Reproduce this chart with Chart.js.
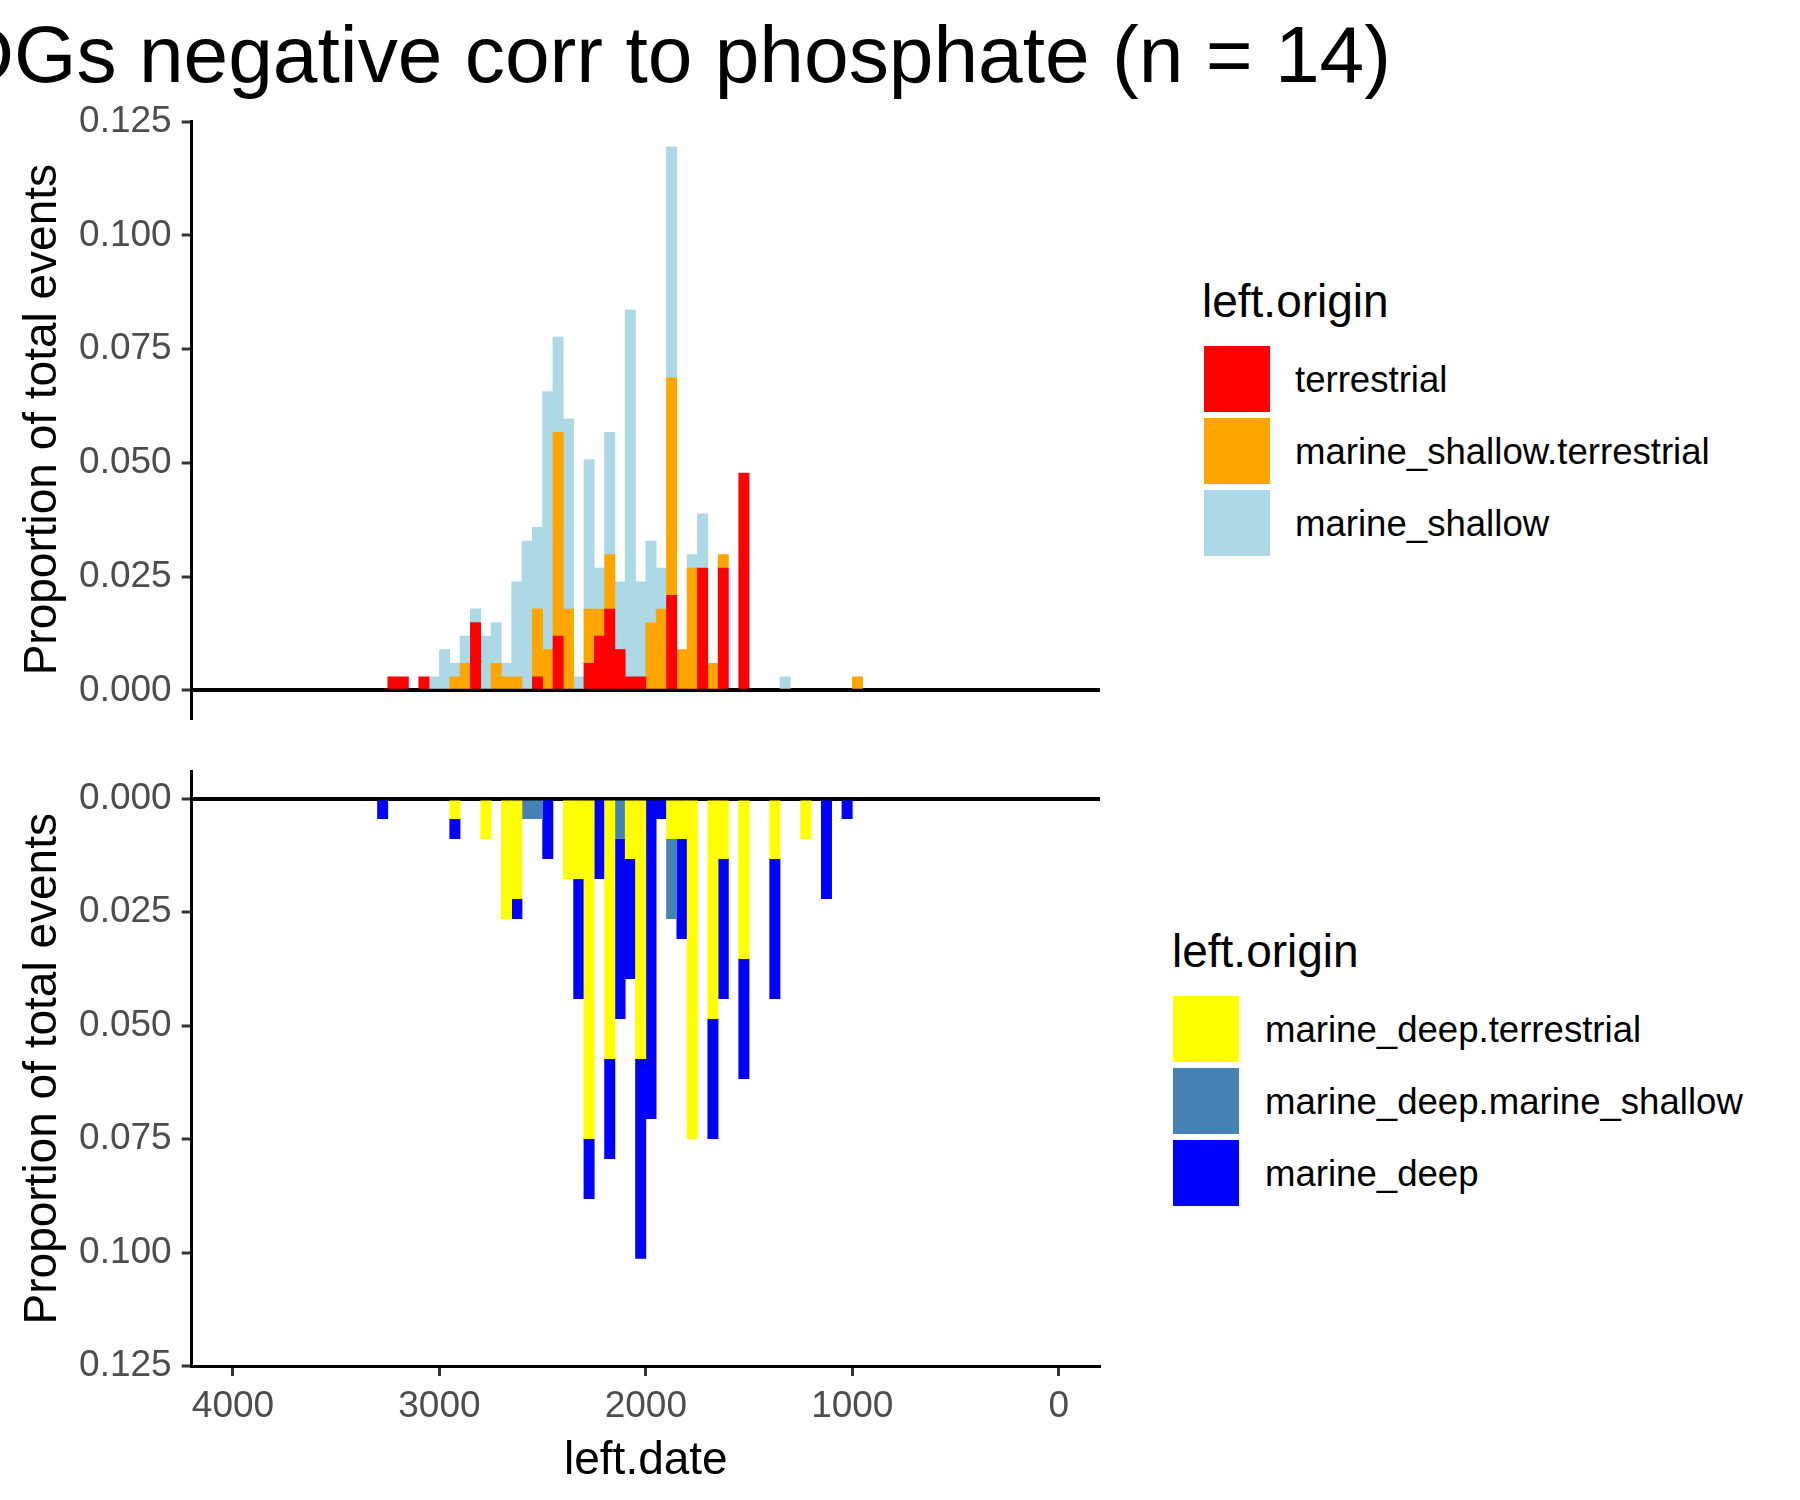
<!DOCTYPE html>
<html>
<head>
<meta charset="utf-8">
<script src="https://cdn.jsdelivr.net/npm/chart.js@4.4.1/dist/chart.umd.min.js"></script>
<style>
html,body{margin:0;padding:0;background:#fff;}
body{width:1800px;height:1500px;position:relative;overflow:hidden;font-family:'Liberation Sans',Arial,sans-serif;}
#title{position:absolute;left:-44px;top:14px;font-size:80.3px;line-height:1;white-space:nowrap;color:#000;}
canvas{position:absolute;left:0;}
.lgTitle{position:absolute;font-size:46px;line-height:1;color:#000;white-space:nowrap;}
.lgRow{position:absolute;height:66px;display:flex;align-items:center;white-space:nowrap;}
.lgKey{width:66px;height:66px;flex:none;}
.lgLabel{font-size:36.6px;line-height:1;color:#000;position:relative;top:1.5px;}
</style>
</head>
<body>
<div id="title">DGs negative corr to phosphate (n = 14)</div>
<canvas id="topChart" width="1150" height="740" style="top:0;width:1150px;height:740px"></canvas>
<canvas id="bottomChart" width="1150" height="760" style="top:740px;width:1150px;height:760px"></canvas>
<div id="legends"></div>
<script>
// ---- data ----
const bins = [3275,3225,3175,3125,3075,3025,2975,2925,2875,2825,2775,2725,2675,2625,2575,2525,2475,2425,2375,2325,2275,2225,2175,2125,2075,2025,1975,1925,1875,1825,1775,1725,1675,1625,1575,1525,1475,1425,1375,1325,1275,1225,1175,1125,1075,1025,975];

const yTicks = [0, 0.025, 0.05, 0.075, 0.1, 0.125];
const xTicks = [4000, 3000, 2000, 1000, 0];

// top panel series
const terrestrial = [null,0.00299,0.00299,null,0.00299,null,null,null,null,0.01493,
  null,null,null,null,null,0.00299,null,0.01194,null,null,
  0.00597,0.01194,0.01791,0.00896,0.00299,0.00299,null,null,0.02090,null,
  null,0.02687,null,0.02687,null,0.04776,null,null,null,null,
  null,null,null,null,null,null,null];
const marineShallowTerrestrial = [null,null,null,null,null,null,null,0.00299,0.00597,null,
  null,0.00597,0.00299,0.00299,null,0.01493,0.00896,0.04478,0.01791,null,
  0.01194,0.00597,0.01194,null,null,null,0.01493,0.01791,0.04776,0.00896,
  0.02687,null,0.00597,0.00299,null,null,null,null,null,null,
  null,null,null,null,null,null,0.00299];
const marineShallow = [null,null,null,null,null,0.00299,0.00896,0.00299,0.00597,0.00299,
  0.01194,0.00896,0.00299,0.02090,0.03284,0.01791,0.05672,0.02090,0.04179,0.00299,
  0.03284,0.00896,0.02687,0.01493,0.08060,0.02090,0.01791,0.00896,0.05075,null,
  0.00299,0.01194,null,null,null,null,null,null,null,0.00299,
  null,null,null,null,null,null,null];

// bottom panel series
const marineDeepTerrestrial = [null,null,null,null,null,null,null,0.00441,null,null,
  0.00881,null,0.02643,0.02203,null,null,null,null,0.01762,0.01762,
  0.07489,null,0.05727,null,0.01322,0.05727,null,null,0.00881,0.00881,
  0.07489,null,0.04846,0.01322,null,0.03524,null,null,0.01322,null,
  null,0.00881,null,null,null,null,null];
const marineDeepMarineShallow = [null,null,null,null,null,null,null,null,null,null,
  null,null,null,null,0.00441,0.00441,null,null,null,null,
  null,null,null,0.00881,null,null,null,null,0.01762,null,
  null,null,null,null,null,null,null,null,null,null,
  null,null,null,null,null,null,null];
const marineDeep = [0.00441,null,null,null,null,null,null,0.00441,null,null,
  null,null,null,0.00441,null,null,0.01322,null,null,0.02643,
  0.01322,0.01762,0.02203,0.03965,0.02643,0.04405,0.07048,0.00441,null,0.02203,
  null,null,0.02643,0.03084,null,0.02643,null,null,0.03084,null,
  null,null,null,0.02203,null,0.00441,null];

const topSeries = [
  {label:'terrestrial', values:terrestrial, color:'#FF0000'},
  {label:'marine_shallow.terrestrial', values:marineShallowTerrestrial, color:'#FFA500'},
  {label:'marine_shallow', values:marineShallow, color:'#ADD8E6'}
];
const bottomSeries = [
  {label:'marine_deep.terrestrial', values:marineDeepTerrestrial, color:'#FFFF00'},
  {label:'marine_deep.marine_shallow', values:marineDeepMarineShallow, color:'#4682B4'},
  {label:'marine_deep', values:marineDeep, color:'#0000FF'}
];

// ---- charts ----
Chart.defaults.font.family = "'Liberation Sans', Arial, sans-serif";

function toDatasets(series){
  return series.map(s => ({
    label: s.label,
    data: bins.map((b,i) => ({x:b, y:s.values[i]})),
    backgroundColor: s.color,
    borderWidth: 0,
    barPercentage: 1,
    categoryPercentage: 1
  }));
}

function zeroPad(s){
  s.paddingTop = 0; s.paddingBottom = 0; s.paddingLeft = 0; s.paddingRight = 0;
}

function yScale(reverse){
  return {
    type:'linear', min:-0.006, max:0.125, reverse:reverse, stacked:true, z:1,
    afterFit: s => { s.width = 191.7; zeroPad(s); },
    afterBuildTicks: s => { s.ticks = yTicks.map(v => ({value:v})); },
    ticks: {callback: v => Number(v).toFixed(3), font:{size:37}, color:'#4D4D4D', padding:10, autoSkip:false},
    grid: {
      display:true, drawOnChartArea:true, drawTicks:true, tickLength:10, offset:false,
      color: c => (c.tick && c.tick.value === 0) ? '#000000' : 'rgba(0,0,0,0)',
      lineWidth: 4, tickColor:'#333333', tickWidth:3
    },
    border: {display:true, color:'#000000', width:3},
    title: {display:true, text:'Proportion of total events', font:{size:46}, color:'#000000', padding:{top:15.4, bottom:0}}
  };
}

new Chart(document.getElementById('topChart'), {
  type:'bar',
  data:{datasets: toDatasets(topSeries)},
  options:{
    responsive:false, animation:false, devicePixelRatio:1,
    layout:{padding:{left:0, top:121.5, right:50, bottom:22.2}},
    plugins:{legend:{display:false}, tooltip:{enabled:false}, title:{display:false}},
    scales:{
      x:{type:'linear', reverse:true, min:-200, max:4200, stacked:true, offset:false, display:false,
         grid:{offset:false}},
      y: yScale(false)
    }
  }
});

new Chart(document.getElementById('bottomChart'), {
  type:'bar',
  data:{datasets: toDatasets(bottomSeries)},
  options:{
    responsive:false, animation:false, devicePixelRatio:1,
    layout:{padding:{left:0, top:31.5, right:50, bottom:0}},
    plugins:{legend:{display:false}, tooltip:{enabled:false}, title:{display:false}},
    scales:{
      x:{
        type:'linear', reverse:true, min:-200, max:4200, stacked:true, offset:false,
        afterFit: s => { s.height = 134; zeroPad(s); },
        afterBuildTicks: s => { s.ticks = xTicks.map(v => ({value:v})); },
        ticks:{callback: v => String(v), font:{size:37}, color:'#4D4D4D', padding:9, maxRotation:0, autoSkip:false},
        grid:{display:true, offset:false, drawOnChartArea:false, drawTicks:true, tickLength:10, color:'#333333', tickColor:'#333333', tickWidth:3},
        border:{display:true, color:'#000000', width:3},
        title:{display:true, text:'left.date', font:{size:46}, color:'#000000', padding:{top:0, bottom:11.4}}
      },
      y: yScale(true)
    }
  }
});

// ---- legends (HTML) ----
function buildLegend(series, titleTop, titleLeft, keyLeft, firstKeyTop, pitch, labelGap){
  const host = document.getElementById('legends');
  const t = document.createElement('div');
  t.className = 'lgTitle';
  t.style.left = titleLeft + 'px';
  t.style.top = titleTop + 'px';
  t.textContent = 'left.origin';
  host.appendChild(t);
  series.forEach((s, i) => {
    const row = document.createElement('div');
    row.className = 'lgRow';
    row.style.left = keyLeft + 'px';
    row.style.top = (firstKeyTop + i * pitch) + 'px';
    const k = document.createElement('div');
    k.className = 'lgKey';
    k.style.background = s.color;
    const l = document.createElement('span');
    l.className = 'lgLabel';
    l.style.marginLeft = labelGap + 'px';
    l.textContent = s.label;
    row.appendChild(k); row.appendChild(l);
    host.appendChild(row);
  });
}
buildLegend(topSeries, 278, 1202, 1204, 346, 72, 25);
buildLegend(bottomSeries, 928, 1172, 1173, 996, 72, 26);
</script>
</body>
</html>
